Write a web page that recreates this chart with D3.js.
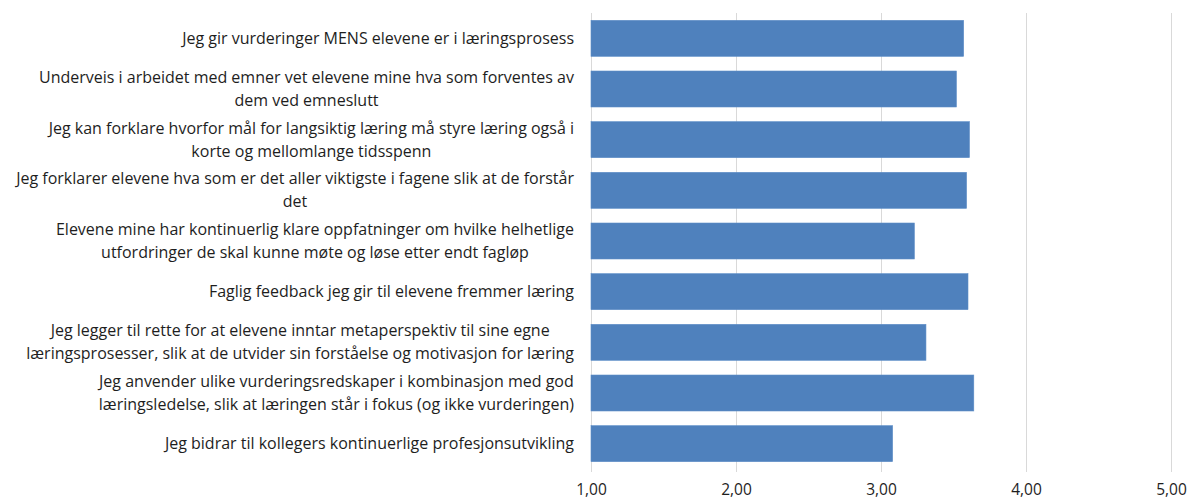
<!DOCTYPE html>
<html>
<head>
<meta charset="utf-8">
<script src="https://cdn.jsdelivr.net/npm/d3@7"></script>
<style>
  body { margin: 0; background: #fff; }
  text { font-family: "Open Sans", "Liberation Sans", Arial, sans-serif; fill: #1e1e1e; }
</style>
</head>
<body>
<div id="chart"></div>
<script>
// categories, top to bottom, with the line breaks of the original
var categories = [
  "Jeg gir vurderinger MENS elevene er i læringsprosess",
  "Underveis i arbeidet med emner vet elevene mine hva som forventes av\ndem ved emneslutt",
  "Jeg kan forklare hvorfor mål for langsiktig læring må styre læring også i\nkorte og mellomlange tidsspenn",
  "Jeg forklarer elevene hva som er det aller viktigste i fagene slik at de forstår\ndet",
  "Elevene mine har kontinuerlig klare oppfatninger om hvilke helhetlige\nutfordringer de skal kunne møte og løse etter endt fagløp",
  "Faglig feedback jeg gir til elevene fremmer læring",
  "Jeg legger til rette for at elevene inntar metaperspektiv til sine egne\nlæringsprosesser, slik at de utvider sin forståelse og motivasjon for læring",
  "Jeg anvender ulike vurderingsredskaper i kombinasjon med god\nlæringsledelse, slik at læringen står i fokus (og ikke vurderingen)",
  "Jeg bidrar til kollegers kontinuerlige profesjonsutvikling"
]
var values = [3.57, 3.52, 3.61, 3.59, 3.23, 3.60, 3.31, 3.64, 3.08]
var tickValues = [1, 2, 3, 4, 5]

var width = 1192,
    height = 502,
    margin = {top: 13, right: 21, bottom: 34, left: 591}

var svg = d3.select("#chart").append("svg")
  .attr("width", width)
  .attr("height", height)

var x = d3.scaleLinear()
  .domain([1, 5])
  .range([margin.left, margin.left + 580])

var y = d3.scaleBand()
  .domain(d3.range(categories.length))
  .range([margin.top, height - margin.bottom + 1])
  .paddingInner(0.29)
  .paddingOuter(0.145)

var plotBottom = height - margin.bottom + 1

// gridlines (including the axis line at 1,00)
svg.append("g")
  .selectAll("line")
  .data(tickValues)
  .enter()
  .append("line")
  .attr("x1", d => Math.round(x(d)) + 0.5)
  .attr("x2", d => Math.round(x(d)) + 0.5)
  .attr("y1", margin.top)
  .attr("y2", plotBottom + 3)
  .style("stroke", "#d9d9d9")
  .style("stroke-width", 1)

// bars
svg.append("g")
  .selectAll("rect")
  .data(values)
  .enter()
  .append("rect")
  .attr("x", x(1))
  .attr("y", (d, i) => y(i))
  .attr("width", d => x(d) - x(1))
  .attr("height", y.bandwidth())
  .style("fill", "#4f81bd")
  .style("stroke", "#5b8cc6")
  .style("stroke-width", 0.6)

// x tick labels
var xAxis = d3.axisBottom(x)
  .tickValues(tickValues)
  .tickSize(0)
  .tickPadding(0)
  .tickFormat(d => d3.format(".2f")(d).replace(".", ","))

var gx = svg.append("g")
  .attr("transform", "translate(0," + (plotBottom + 15) + ")")
  .call(xAxis)
gx.select(".domain").remove()
gx.selectAll("text")
  .style("font-size", "15.5px")
  .style("font-family", "Open Sans, Liberation Sans, Arial, sans-serif")
  .attr("fill", "#1e1e1e")

// category labels, wrapped lines centred within a right-aligned block
var labelRight = 574
var lineGap = 23
var labels = svg.append("g")

categories.forEach(function(c, i) {
  var lines = c.split("\n")
  var cy = y(i) + y.bandwidth() / 2
  var g = labels.append("g")
  var texts = lines.map(function(l, j) {
    return g.append("text")
      .attr("y", cy + (j - (lines.length - 1) / 2) * lineGap)
      .attr("dy", "0.35em")
      .style("font-size", "16px")
      .style("text-anchor", "middle")
      .text(l)
  })
  var maxW = d3.max(texts, t => t.node().getComputedTextLength())
  texts.forEach(t => t.attr("x", labelRight - maxW / 2))
})
</script>
</body>
</html>
